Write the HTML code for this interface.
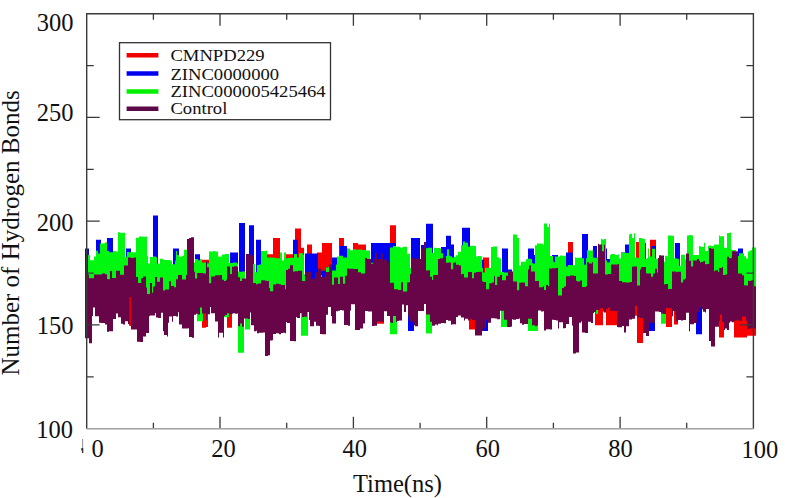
<!DOCTYPE html>
<html><head><meta charset="utf-8"><style>
html,body{margin:0;padding:0;background:#fff;width:788px;height:498px;overflow:hidden}
svg{display:block}
text{font-family:"Liberation Serif",serif;fill:#111}
</style></head><body>
<svg width="788" height="498" viewBox="0 0 788 498">
<path d="M85 261.2h3V328.0h-3zM88 277.3h4V328.0h-4zM92 277.3h7V300.7h-7zM99 277.3h8V308.7h-8zM107 282.1h3V316.0h-3zM110 274.0h3V316.0h-3zM113 274.0h7V303.1h-7zM120 269.2h1V303.1h-1zM121 269.2h7V309.5h-7zM128 261.2h1V309.5h-1zM129 261.2h2V325.3h-2zM131 261.2h5V313.6h-5zM136 280.5h1V313.6h-1zM137 280.5h6V326.4h-6zM143 280.5h4V321.6h-4zM147 286.9h2V321.6h-2zM149 286.9h4V304.7h-4zM153 280.5h2V304.7h-2zM155 280.5h8V302.3h-8zM163 285.3h5V320.8h-5zM168 285.3h5V307.1h-5zM173 285.3h3V301.5h-3zM176 277.3h3V301.5h-3zM179 277.3h8V313.6h-8zM187 241.1h2V313.6h-2zM189 241.1h5V322.4h-5zM194 275.7h6V299.1h-6zM200 259.8h2V299.1h-2zM202 259.8h4V327.8h-4zM206 259.8h2V326.9h-2zM208 259.8h1V305.5h-1zM209 278.9h1V305.5h-1zM210 278.9h5V298.3h-5zM215 278.9h3V306.3h-3zM218 278.9h4V322.4h-4zM222 283.7h2V322.4h-2zM224 283.7h3V300.7h-3zM227 270.0h5V327.8h-5zM232 270.0h6V299.1h-6zM238 280.5h6V311.9h-6zM244 280.5h2V303.1h-2zM246 258.0h5V303.1h-5zM251 258.0h2V316.0h-2zM253 286.9h4V316.0h-4zM257 286.9h4V318.4h-4zM261 283.7h4V318.4h-4zM265 283.7h2V340.9h-2zM267 254.2h3V340.9h-3zM270 254.2h3V324.8h-3zM273 238.1h7V318.4h-7zM280 286.9h6V318.4h-6zM286 254.2h4V307.1h-4zM290 254.2h3V326.4h-3zM293 274.0h2V326.4h-2zM295 228.5h1V326.4h-1zM296 228.5h5V302.3h-5zM301 247.8h3V302.3h-3zM304 274.8h3V302.3h-3zM307 244.5h2V302.3h-2zM309 244.5h3V310.3h-3zM312 274.8h5V310.3h-5zM317 252.6h3V310.3h-3zM320 252.6h2V318.4h-2zM322 242.9h4V318.4h-4zM326 242.9h5V299.9h-5zM331 242.9h1V308.7h-1zM332 280.5h4V308.7h-4zM336 280.5h3V295.9h-3zM339 238.1h5V295.9h-5zM344 280.5h1V310.3h-1zM345 272.4h5V310.3h-5zM350 272.4h3V295.1h-3zM353 242.9h2V295.1h-2zM355 242.9h3V314.4h-3zM358 244.5h2V314.4h-2zM360 244.5h5V312.8h-5zM365 244.5h1V295.9h-1zM366 261.2h6V295.9h-6zM372 261.2h1V310.3h-1zM373 256.4h4V310.3h-4zM377 256.4h7V323.7h-7zM384 256.4h3V300.7h-3zM387 264.4h3V300.7h-3zM390 225.3h6V307.1h-6zM396 285.3h1V307.1h-1zM397 285.3h5V306.3h-5zM402 285.3h6V296.7h-6zM408 285.3h2V307.1h-2zM410 277.3h1V307.1h-1zM411 261.2h3V307.1h-3zM414 261.2h4V310.3h-4zM418 261.2h3V295.9h-3zM421 245.1h5V295.9h-5zM426 274.0h6V306.3h-6zM432 277.3h6V310.3h-6zM438 261.2h8V308.7h-8zM446 266.0h5V305.5h-5zM451 266.0h5V309.5h-5zM456 268.4h5V301.5h-5zM461 277.3h3V301.5h-3zM464 277.3h4V304.7h-4zM468 275.7h1V304.7h-1zM469 275.7h6V329.4h-6zM475 275.7h7V320.0h-7zM482 285.3h1V320.0h-1zM483 257.4h6V311.9h-6zM489 285.3h2V311.9h-2zM491 285.3h3V303.9h-3zM494 278.9h13V303.9h-13zM507 278.9h1V311.1h-1zM508 274.0h4V311.1h-4zM512 274.0h1V303.9h-1zM513 285.3h6V303.9h-6zM519 286.1h1V303.9h-1zM520 286.1h8V308.7h-8zM528 269.2h7V311.1h-7zM535 284.5h3V311.1h-3zM538 284.5h6V295.9h-6zM544 288.5h5V315.2h-5zM549 270.8h3V315.2h-3zM552 270.8h6V305.5h-6zM558 290.1h8V313.6h-8zM566 278.9h2V309.5h-2zM568 242.1h5V309.5h-5zM573 278.9h3V337.7h-3zM576 283.7h3V337.7h-3zM579 283.7h3V307.1h-3zM582 290.1h5V318.4h-5zM587 266.0h1V318.4h-1zM588 266.0h5V307.1h-5zM593 277.3h2V297.5h-2zM595 277.3h3V325.3h-3zM598 247.5h5V325.3h-5zM603 247.5h2V297.5h-2zM605 277.3h1V297.5h-1zM606 277.3h5V325.3h-5zM611 267.6h6V325.3h-6zM617 267.6h2V311.9h-2zM619 284.5h5V311.9h-5zM624 284.5h5V318.4h-5zM629 284.5h3V303.9h-3zM632 269.2h3V303.9h-3zM635 269.2h1V315.7h-1zM636 242.1h1V315.7h-1zM637 242.1h2V343.0h-2zM639 285.3h1V343.0h-1zM640 269.2h3V343.0h-3zM643 269.2h3V326.4h-3zM646 275.7h3V326.4h-3zM649 275.7h1V307.1h-1zM650 239.7h5V307.1h-5zM655 239.7h1V297.5h-1zM656 272.4h2V297.5h-2zM658 258.0h3V297.5h-3zM661 258.0h3V299.1h-3zM664 286.9h2V299.1h-2zM666 286.9h6V326.9h-6zM672 274.8h2V300.7h-2zM674 274.8h2V324.5h-2zM676 275.7h2V324.6h-2zM678 275.7h3V305.5h-3zM681 282.1h5V305.5h-5zM686 257.2h3V297.5h-3zM689 257.2h2V316.0h-2zM691 262.8h3V316.0h-3zM694 262.8h3V307.1h-3zM697 262.8h3V295.9h-3zM700 264.4h2V295.9h-2zM702 264.4h3V297.5h-3zM705 267.6h4V298.3h-4zM709 251.6h5V330.4h-5zM714 274.1h1V330.4h-1zM715 274.1h4V312.0h-4zM719 270.1h4V337.4h-4zM723 278.1h1V337.4h-1zM724 278.1h3V314.4h-3zM727 260.4h2V314.4h-2zM729 260.4h3V307.1h-3zM732 254.0h2V307.1h-2zM734 254.0h4V337.4h-4zM738 277.3h6V337.4h-6zM744 288.5h3V337.4h-3zM747 288.5h1V335.8h-1zM748 283.7h8V335.8h-8z" fill="#f80000"/>
<path d="M85 248.6h4V328.0h-4zM89 277.3h3V328.0h-3zM92 277.3h4V300.7h-4zM96 239.7h3V300.7h-3zM99 239.7h2V308.7h-2zM101 277.3h6V308.7h-6zM107 238.1h6V316.0h-6zM113 274.0h7V303.1h-7zM120 269.2h1V303.1h-1zM121 269.2h5V309.5h-5zM126 248.6h5V309.5h-5zM131 261.2h5V313.6h-5zM136 280.5h1V313.6h-1zM137 280.5h6V326.4h-6zM143 280.5h4V321.6h-4zM147 286.9h2V321.6h-2zM149 286.9h4V304.7h-4zM153 215.6h2V304.7h-2zM155 215.6h3V302.3h-3zM158 280.5h5V302.3h-5zM163 285.3h5V320.8h-5zM168 285.3h5V307.1h-5zM173 248.6h6V301.5h-6zM179 277.3h8V313.6h-8zM187 241.1h2V313.6h-2zM189 241.1h5V322.4h-5zM194 275.7h1V299.1h-1zM195 254.2h5V299.1h-5zM200 275.7h6V299.1h-6zM206 262.8h3V305.5h-3zM209 278.9h1V305.5h-1zM210 278.9h5V298.3h-5zM215 278.9h3V306.3h-3zM218 278.9h4V322.4h-4zM222 283.7h2V322.4h-2zM224 283.7h3V300.7h-3zM227 270.0h3V299.1h-3zM230 252.6h8V299.1h-8zM238 280.5h1V311.9h-1zM239 222.9h5V311.9h-5zM244 222.9h1V303.1h-1zM245 280.5h1V303.1h-1zM246 258.0h3V303.1h-3zM249 225.3h2V303.1h-2zM251 225.3h3V316.0h-3zM254 286.9h2V316.0h-2zM256 239.7h1V316.0h-1zM257 239.7h4V318.4h-4zM261 283.7h4V318.4h-4zM265 283.7h3V340.9h-3zM268 258.2h2V340.9h-2zM270 258.2h3V324.8h-3zM273 286.9h13V318.4h-13zM286 267.6h4V307.1h-4zM290 267.6h3V326.4h-3zM293 239.7h3V326.4h-3zM296 239.7h2V302.3h-2zM298 274.0h4V302.3h-4zM302 274.8h3V302.3h-3zM305 253.4h4V302.3h-4zM309 253.4h9V310.3h-9zM318 270.8h2V310.3h-2zM320 270.8h6V318.4h-6zM326 267.6h5V299.9h-5zM331 267.6h1V308.7h-1zM332 257.4h4V308.7h-4zM336 257.4h2V295.9h-2zM338 280.5h2V295.9h-2zM340 246.1h4V295.9h-4zM344 246.1h3V310.3h-3zM347 272.4h3V310.3h-3zM350 272.4h5V295.1h-5zM355 272.4h3V314.4h-3zM358 275.7h2V314.4h-2zM360 275.7h5V312.8h-5zM365 261.2h6V295.9h-6zM371 242.9h1V295.9h-1zM372 242.9h5V310.3h-5zM377 242.9h7V306.3h-7zM384 242.9h6V300.7h-6zM390 242.9h6V307.1h-6zM396 285.3h1V307.1h-1zM397 285.3h5V306.3h-5zM402 285.3h6V296.7h-6zM408 285.3h2V331.0h-2zM410 277.3h1V331.0h-1zM411 238.1h3V331.0h-3zM414 238.1h4V310.3h-4zM418 238.1h2V295.9h-2zM420 261.2h1V295.9h-1zM421 245.1h5V295.9h-5zM426 223.7h6V306.3h-6zM432 223.7h1V310.3h-1zM433 277.3h5V310.3h-5zM438 261.2h3V308.7h-3zM441 246.9h5V308.7h-5zM446 235.7h5V305.5h-5zM451 244.5h3V309.5h-3zM454 266.0h2V309.5h-2zM456 268.4h5V301.5h-5zM461 277.3h1V301.5h-1zM462 227.7h2V301.5h-2zM464 227.7h6V304.7h-6zM470 275.7h5V304.7h-5zM475 275.7h4V320.0h-4zM479 259.8h4V320.0h-4zM483 259.8h1V331.0h-1zM484 285.3h4V331.0h-4zM488 285.3h3V311.9h-3zM491 285.3h3V303.9h-3zM494 278.9h8V303.9h-8zM502 248.6h5V303.9h-5zM507 248.6h1V311.1h-1zM508 269.4h4V311.1h-4zM512 274.0h1V303.9h-1zM513 285.3h6V303.9h-6zM519 286.1h1V303.9h-1zM520 286.1h8V308.7h-8zM528 248.6h6V311.1h-6zM534 255.0h2V311.1h-2zM536 284.5h2V311.1h-2zM538 284.5h6V295.9h-6zM544 288.5h5V315.2h-5zM549 270.8h3V315.2h-3zM552 255.0h6V305.5h-6zM558 290.1h8V313.6h-8zM566 252.6h7V309.5h-7zM573 278.9h3V337.7h-3zM576 283.7h3V337.7h-3zM579 283.7h3V307.1h-3zM582 234.1h6V318.4h-6zM588 266.0h5V307.1h-5zM593 246.1h3V297.5h-3zM596 246.1h1V294.3h-1zM597 277.3h1V294.3h-1zM598 247.5h5V294.3h-5zM603 247.5h2V297.5h-2zM605 248.6h2V297.5h-2zM607 259.0h1V297.5h-1zM608 259.0h2V295.9h-2zM610 277.3h1V295.9h-1zM611 267.6h6V295.9h-6zM617 267.6h2V311.9h-2zM619 284.5h2V311.9h-2zM621 252.6h3V311.9h-3zM624 252.6h1V318.4h-1zM625 244.5h4V318.4h-4zM629 284.5h3V303.9h-3zM632 269.2h3V303.9h-3zM635 269.2h2V291.1h-2zM637 285.3h3V302.3h-3zM640 269.2h3V302.3h-3zM643 269.2h1V326.4h-1zM644 242.9h2V326.4h-2zM646 275.7h3V326.4h-3zM649 275.7h2V331.0h-2zM651 246.1h4V331.0h-4zM655 246.1h1V297.5h-1zM656 272.4h2V297.5h-2zM658 258.0h3V297.5h-3zM661 258.0h3V299.1h-3zM664 286.9h2V299.1h-2zM666 286.9h6V292.7h-6zM672 274.8h3V300.7h-3zM675 242.9h1V300.7h-1zM676 242.9h2V307.1h-2zM678 242.9h1V305.5h-1zM679 242.9h1V305.5h-1zM680 275.7h1V305.5h-1zM681 282.1h5V305.5h-5zM686 257.2h3V297.5h-3zM689 257.2h2V316.0h-2zM691 262.8h3V316.0h-3zM694 262.8h2V307.1h-2zM696 262.8h4V334.2h-4zM700 264.4h2V334.2h-2zM702 264.4h3V297.5h-3zM705 267.6h4V298.3h-4zM709 251.6h5V330.4h-5zM714 274.1h1V330.4h-1zM715 274.1h4V312.0h-4zM719 270.1h4V306.3h-4zM723 278.1h1V306.3h-1zM724 278.1h3V314.4h-3zM727 260.4h2V314.4h-2zM729 260.4h3V307.1h-3zM732 254.0h2V307.1h-2zM734 254.0h4V305.5h-4zM738 248.6h5V305.5h-5zM743 277.3h1V305.5h-1zM744 288.5h3V305.5h-3zM747 288.5h1V313.6h-1zM748 283.7h8V313.6h-8z" fill="#0004f0"/>
<path d="M85 260.6h3V328.0h-3zM88 255.1h2V328.0h-2zM90 260.2h2V328.0h-2zM92 260.2h2V300.7h-2zM94 256.5h2V300.7h-2zM96 250.8h2V300.7h-2zM98 253.5h1V300.7h-1zM99 253.5h1V308.7h-1zM100 243.5h3V308.7h-3zM103 243.2h2V308.7h-2zM105 242.2h2V308.7h-2zM107 251.0h2V316.0h-2zM109 252.3h4V316.0h-4zM113 251.1h3V303.1h-3zM116 251.5h2V303.1h-2zM118 232.2h2V303.1h-2zM120 232.8h1V303.1h-1zM121 232.8h4V309.5h-4zM125 256.7h2V309.5h-2zM127 252.1h2V309.5h-2zM129 252.3h2V309.5h-2zM131 252.3h2V313.6h-2zM133 252.2h3V313.6h-3zM136 237.7h1V313.6h-1zM137 237.8h2V326.4h-2zM139 236.5h4V326.4h-4zM143 236.8h3V321.6h-3zM146 236.6h1V321.6h-1zM147 255.9h1V321.6h-1zM148 263.6h1V321.6h-1zM149 263.6h1V304.7h-1zM150 257.1h3V304.7h-3zM153 256.4h2V304.7h-2zM155 256.4h1V302.3h-1zM156 257.3h1V302.3h-1zM157 263.7h3V302.3h-3zM160 258.8h3V302.3h-3zM163 260.0h4V320.8h-4zM167 260.0h1V320.8h-1zM168 260.0h2V307.1h-2zM170 260.6h2V307.1h-2zM172 264.3h1V307.1h-1zM173 264.3h2V301.5h-2zM175 260.6h1V301.5h-1zM176 250.9h1V301.5h-1zM177 255.1h2V301.5h-2zM179 256.7h3V313.6h-3zM182 255.7h2V313.6h-2zM184 249.7h3V313.6h-3zM187 262.6h1V313.6h-1zM188 262.6h1V313.6h-1zM189 262.6h2V322.4h-2zM191 262.6h3V322.4h-3zM194 262.6h1V299.1h-1zM195 259.1h2V299.1h-2zM197 259.1h1V321.3h-1zM198 260.3h2V321.3h-2zM200 259.2h2V321.3h-2zM202 262.4h1V321.3h-1zM203 262.4h1V299.1h-1zM204 262.6h2V299.1h-2zM206 263.2h3V305.5h-3zM209 251.6h1V305.5h-1zM210 251.6h3V298.3h-3zM213 250.9h2V298.3h-2zM215 251.4h3V306.3h-3zM218 256.5h4V322.4h-4zM222 254.6h2V322.4h-2zM224 254.6h1V317.3h-1zM225 253.9h4V317.3h-4zM229 263.0h4V299.1h-4zM233 262.5h4V299.1h-4zM237 263.5h1V299.1h-1zM238 271.6h2V352.7h-2zM240 271.7h2V352.7h-2zM242 271.6h2V352.7h-2zM244 271.6h1V303.1h-1zM245 281.0h3V329.4h-3zM248 274.2h2V329.4h-2zM250 274.2h1V303.1h-1zM251 274.2h1V316.0h-1zM252 273.7h1V316.0h-1zM253 264.1h2V316.0h-2zM255 272.3h2V316.0h-2zM257 265.1h2V318.4h-2zM259 264.5h2V318.4h-2zM261 250.9h2V318.4h-2zM263 251.0h2V318.4h-2zM265 251.0h1V340.9h-1zM266 250.6h1V340.9h-1zM267 257.8h1V340.9h-1zM268 257.6h2V340.9h-2zM270 257.6h1V324.8h-1zM271 257.6h2V324.8h-2zM273 257.7h3V318.4h-3zM276 258.3h3V318.4h-3zM279 258.3h1V318.4h-1zM280 252.6h2V318.4h-2zM282 260.5h2V318.4h-2zM284 252.5h2V318.4h-2zM286 258.2h2V307.1h-2zM288 258.0h2V307.1h-2zM290 257.7h4V326.4h-4zM294 254.0h2V326.4h-2zM296 254.0h1V302.3h-1zM297 257.4h2V302.3h-2zM299 253.3h2V302.3h-2zM301 253.3h2V335.8h-2zM303 255.1h1V335.8h-1zM304 275.2h3V335.8h-3zM307 281.7h1V335.8h-1zM308 281.7h1V302.3h-1zM309 281.7h1V310.3h-1zM310 280.5h3V310.3h-3zM313 280.2h2V310.3h-2zM315 282.8h3V310.3h-3zM318 275.2h2V310.3h-2zM320 275.2h2V318.4h-2zM322 280.4h4V318.4h-4zM326 267.6h2V299.9h-2zM328 266.9h3V299.9h-3zM331 266.9h1V308.7h-1zM332 270.4h4V308.7h-4zM336 264.6h1V295.9h-1zM337 256.5h2V295.9h-2zM339 255.8h4V295.9h-4zM343 257.4h1V295.9h-1zM344 257.4h1V310.3h-1zM345 257.4h2V310.3h-2zM347 248.4h3V310.3h-3zM350 250.3h3V295.1h-3zM353 249.3h2V295.1h-2zM355 249.3h1V314.4h-1zM356 249.7h2V314.4h-2zM358 249.5h2V314.4h-2zM360 249.5h2V312.8h-2zM362 250.0h3V312.8h-3zM365 250.0h1V295.9h-1zM366 250.5h4V295.9h-4zM370 262.8h2V295.9h-2zM372 262.8h1V310.3h-1zM373 266.6h4V310.3h-4zM377 262.6h3V306.3h-3zM380 263.9h4V306.3h-4zM384 262.8h3V300.7h-3zM387 263.6h2V300.7h-2zM389 263.5h1V300.7h-1zM390 247.4h3V334.2h-3zM393 246.0h3V334.2h-3zM396 246.8h1V334.2h-1zM397 246.8h1V306.3h-1zM398 246.7h2V306.3h-2zM400 247.6h2V306.3h-2zM402 247.6h1V296.7h-1zM403 246.8h4V296.7h-4zM407 253.7h1V296.7h-1zM408 253.7h2V307.1h-2zM410 268.1h1V307.1h-1zM411 260.7h2V307.1h-2zM413 262.2h1V307.1h-1zM414 262.2h1V310.3h-1zM415 260.8h3V310.3h-3zM418 260.9h2V295.9h-2zM420 261.1h2V295.9h-2zM422 267.3h3V295.9h-3zM425 261.1h1V295.9h-1zM426 248.2h2V333.4h-2zM428 247.7h4V333.4h-4zM432 252.8h2V310.3h-2zM434 247.8h2V310.3h-2zM436 248.0h2V310.3h-2zM438 248.0h2V308.7h-2zM440 248.4h1V308.7h-1zM441 253.2h2V308.7h-2zM443 259.2h3V308.7h-3zM446 256.0h1V305.5h-1zM447 249.2h2V305.5h-2zM449 255.6h1V305.5h-1zM450 256.2h1V305.5h-1zM451 256.2h1V309.5h-1zM452 257.6h2V309.5h-2zM454 256.8h2V309.5h-2zM456 255.3h2V301.5h-2zM458 251.8h3V301.5h-3zM461 245.3h2V301.5h-2zM463 241.5h1V301.5h-1zM464 241.5h1V304.7h-1zM465 242.7h2V304.7h-2zM467 242.8h1V304.7h-1zM468 246.8h2V304.7h-2zM470 245.7h4V304.7h-4zM474 246.1h1V304.7h-1zM475 246.1h1V320.0h-1zM476 256.5h2V320.0h-2zM478 256.0h3V320.0h-3zM481 256.5h1V320.0h-1zM482 267.8h1V320.0h-1zM483 272.4h2V311.9h-2zM485 267.8h6V311.9h-6zM491 247.1h2V303.9h-2zM493 246.5h4V303.9h-4zM497 257.3h2V303.9h-2zM499 258.4h2V303.9h-2zM501 272.1h3V326.9h-3zM504 272.6h3V326.9h-3zM507 272.6h1V311.1h-1zM508 273.3h2V311.1h-2zM510 271.7h2V311.1h-2zM512 271.7h1V303.9h-1zM513 234.5h4V303.9h-4zM517 238.1h2V303.9h-2zM519 265.4h1V303.9h-1zM520 265.4h1V308.7h-1zM521 261.7h3V308.7h-3zM524 261.7h2V308.7h-2zM526 259.3h1V308.7h-1zM527 258.7h1V308.7h-1zM528 258.7h3V331.0h-3zM531 259.0h1V331.0h-1zM532 263.0h1V331.0h-1zM533 263.8h2V331.0h-2zM535 245.3h2V331.0h-2zM537 243.6h1V331.0h-1zM538 243.6h3V295.9h-3zM541 243.7h2V295.9h-2zM543 245.2h1V295.9h-1zM544 223.5h3V315.2h-3zM547 226.9h2V315.2h-2zM549 223.8h1V315.2h-1zM550 255.9h2V315.2h-2zM552 255.9h1V305.5h-1zM553 261.5h1V305.5h-1zM554 262.3h1V305.5h-1zM555 256.4h2V305.5h-2zM557 256.4h1V305.5h-1zM558 256.4h2V313.6h-2zM560 255.6h2V313.6h-2zM562 255.7h4V313.6h-4zM566 266.5h2V309.5h-2zM568 265.1h4V309.5h-4zM572 265.2h1V309.5h-1zM573 265.2h2V337.7h-2zM575 257.2h1V337.7h-1zM576 257.7h3V337.7h-3zM579 257.7h1V307.1h-1zM580 257.4h2V307.1h-2zM582 258.2h2V318.4h-2zM584 264.7h2V318.4h-2zM586 258.3h1V318.4h-1zM587 250.3h1V318.4h-1zM588 250.3h1V307.1h-1zM589 250.4h3V307.1h-3zM592 250.3h1V307.1h-1zM593 257.5h1V297.5h-1zM594 257.7h2V297.5h-2zM596 257.7h1V314.1h-1zM597 257.1h1V314.1h-1zM598 257.9h1V294.3h-1zM599 257.3h2V294.3h-2zM601 238.8h1V294.3h-1zM602 239.4h1V294.3h-1zM603 239.4h1V297.5h-1zM604 238.9h2V297.5h-2zM606 260.6h1V297.5h-1zM607 262.4h1V297.5h-1zM608 262.4h1V295.9h-1zM609 262.3h1V295.9h-1zM610 255.1h1V295.9h-1zM611 254.1h4V295.9h-4zM615 255.0h2V295.9h-2zM617 255.0h1V311.9h-1zM618 254.3h1V311.9h-1zM619 258.3h1V311.9h-1zM620 258.4h1V311.9h-1zM621 252.8h2V311.9h-2zM623 252.6h1V311.9h-1zM624 252.6h2V318.4h-2zM626 252.9h3V318.4h-3zM629 234.4h1V303.9h-1zM630 233.7h2V303.9h-2zM632 238.1h2V303.9h-2zM634 233.3h1V303.9h-1zM635 257.4h2V291.1h-2zM637 257.4h1V302.3h-1zM638 258.0h1V302.3h-1zM639 237.9h3V302.3h-3zM642 238.6h1V302.3h-1zM643 238.6h1V326.4h-1zM644 238.9h1V326.4h-1zM645 259.0h2V326.4h-2zM647 258.0h1V326.4h-1zM648 248.4h1V326.4h-1zM649 256.4h3V307.1h-3zM652 248.8h3V307.1h-3zM655 258.4h1V297.5h-1zM656 258.8h4V297.5h-4zM660 257.3h1V297.5h-1zM661 257.3h1V323.7h-1zM662 261.7h3V323.7h-3zM665 255.7h1V323.7h-1zM666 255.7h1V292.7h-1zM667 256.4h1V292.7h-1zM668 235.5h3V292.7h-3zM671 235.8h1V292.7h-1zM672 235.8h2V300.7h-2zM674 258.2h2V300.7h-2zM676 258.3h1V307.1h-1zM677 259.1h1V307.1h-1zM678 259.1h1V305.5h-1zM679 266.1h2V305.5h-2zM681 254.7h4V305.5h-4zM685 259.2h1V305.5h-1zM686 261.4h1V297.5h-1zM687 235.4h2V297.5h-2zM689 235.1h2V316.0h-2zM691 235.6h2V316.0h-2zM693 254.9h1V316.0h-1zM694 254.9h1V307.1h-1zM695 255.0h2V307.1h-2zM697 254.9h2V295.9h-2zM699 246.3h2V295.9h-2zM701 246.9h1V295.9h-1zM702 246.9h2V297.5h-2zM704 242.8h1V297.5h-1zM705 250.9h3V298.3h-3zM708 246.1h1V298.3h-1zM709 245.6h2V330.4h-2zM711 245.9h3V330.4h-3zM714 244.4h1V330.4h-1zM715 244.4h2V312.0h-2zM717 244.4h2V312.0h-2zM719 235.5h1V306.3h-1zM720 236.2h4V306.3h-4zM724 247.8h3V314.4h-3zM727 233.3h1V314.4h-1zM728 233.1h1V314.4h-1zM729 233.1h1V307.1h-1zM730 232.4h1V307.1h-1zM731 249.3h1V307.1h-1zM732 249.9h2V307.1h-2zM734 249.9h2V305.5h-2zM736 252.7h2V305.5h-2zM738 255.9h1V305.5h-1zM739 253.2h5V305.5h-5zM744 256.2h2V305.5h-2zM746 258.5h1V305.5h-1zM747 258.5h1V313.6h-1zM748 251.6h2V313.6h-2zM750 250.2h2V313.6h-2zM752 247.4h4V313.6h-4z" fill="#00f810"/>
<path d="M85 258.4h3V338.3h-3zM88 274.5h1V338.3h-1zM89 278.3h2V343.3h-2zM91 278.2h1V343.3h-1zM92 278.2h1V316.0h-1zM93 278.2h1V307.4h-1zM94 274.5h1V307.4h-1zM95 274.5h3V316.3h-3zM98 274.6h1V316.3h-1zM99 274.6h2V322.8h-2zM101 274.6h1V322.9h-1zM102 273.5h3V322.9h-3zM105 274.3h2V324.4h-2zM107 279.1h1V331.7h-1zM108 279.2h1V331.7h-1zM109 279.2h1V331.2h-1zM110 271.1h2V331.2h-2zM112 277.9h1V331.2h-1zM113 277.9h3V319.0h-3zM116 270.8h2V313.5h-2zM118 270.8h2V317.2h-2zM120 274.8h1V317.2h-1zM121 274.8h2V323.7h-2zM123 274.8h1V324.4h-1zM124 265.5h1V324.4h-1zM125 265.5h2V321.2h-2zM127 265.4h1V321.2h-1zM128 257.4h3V324.0h-3zM131 258.1h3V329.5h-3zM134 257.6h1V329.5h-1zM135 257.6h1V329.4h-1zM136 276.9h1V329.4h-1zM137 276.9h1V341.8h-1zM138 282.9h2V341.8h-2zM140 282.9h1V342.1h-1zM141 278.3h2V342.1h-2zM143 276.5h3V336.4h-3zM146 287.4h1V333.1h-1zM147 293.9h2V333.1h-2zM149 293.9h1V316.2h-1zM150 283.0h2V315.4h-2zM152 292.8h1V315.4h-1zM153 286.4h1V315.4h-1zM154 286.4h1V315.5h-1zM155 277.1h1V313.1h-1zM156 277.1h1V317.4h-1zM157 281.7h1V317.4h-1zM158 281.7h2V318.0h-2zM160 277.4h1V318.0h-1zM161 277.4h2V312.7h-2zM163 290.5h1V331.2h-1zM164 290.5h1V335.0h-1zM165 289.5h2V335.0h-2zM167 289.5h1V336.4h-1zM168 289.5h1V322.7h-1zM169 281.3h2V316.5h-2zM171 285.9h1V316.5h-1zM172 285.9h1V321.8h-1zM173 285.9h1V316.1h-1zM174 287.3h2V316.1h-2zM176 279.3h2V316.5h-2zM178 275.0h1V312.3h-1zM179 275.0h3V324.4h-3zM182 279.5h4V328.4h-4zM186 275.1h1V328.4h-1zM187 239.0h1V328.4h-1zM188 239.0h1V328.2h-1zM189 238.0h2V337.0h-2zM191 237.2h1V337.0h-1zM192 237.2h2V337.8h-2zM194 271.7h1V314.8h-1zM195 278.5h1V314.8h-1zM196 278.5h1V313.7h-1zM197 273.1h1V313.7h-1zM198 273.1h2V314.5h-2zM200 273.1h1V307.5h-1zM201 273.0h1V307.5h-1zM202 273.0h1V313.5h-1zM203 273.5h2V313.5h-2zM205 273.5h1V313.7h-1zM206 260.7h1V320.1h-1zM207 267.2h2V314.3h-2zM209 283.2h1V314.3h-1zM210 283.2h1V307.1h-1zM211 276.4h2V313.2h-2zM213 276.4h2V313.2h-2zM215 275.2h2V321.6h-2zM217 275.2h1V321.5h-1zM218 275.2h1V337.6h-1zM219 275.2h1V332.7h-1zM220 275.0h2V332.7h-2zM222 279.8h1V332.7h-1zM223 279.8h1V337.6h-1zM224 281.0h1V316.0h-1zM225 281.0h1V315.0h-1zM226 279.8h1V315.0h-1zM227 266.2h1V313.3h-1zM228 266.5h1V313.3h-1zM229 266.5h1V313.7h-1zM230 273.9h2V313.7h-2zM232 266.7h1V313.7h-1zM233 266.7h1V313.2h-1zM234 266.3h1V313.2h-1zM235 266.3h2V313.7h-2zM237 266.8h1V313.4h-1zM238 277.3h2V326.2h-2zM240 281.1h2V323.6h-2zM242 278.4h2V326.7h-2zM244 278.4h2V318.6h-2zM246 254.1h2V318.6h-2zM248 254.1h1V319.0h-1zM249 255.3h1V319.0h-1zM250 255.3h1V312.4h-1zM251 255.3h2V325.3h-2zM253 283.0h1V325.3h-1zM254 283.0h2V331.2h-2zM256 284.3h1V330.8h-1zM257 284.3h1V333.2h-1zM258 283.4h1V333.2h-1zM259 283.4h2V332.8h-2zM261 280.2h2V332.8h-2zM263 280.2h2V332.5h-2zM265 280.7h2V356.0h-2zM267 280.9h1V356.0h-1zM268 280.9h1V355.3h-1zM269 288.0h1V355.3h-1zM270 291.3h2V340.4h-2zM272 291.3h1V340.3h-1zM273 284.4h3V333.9h-3zM276 283.7h3V333.3h-3zM279 284.2h2V334.2h-2zM281 284.9h2V332.9h-2zM283 284.9h2V332.8h-2zM285 289.2h1V333.3h-1zM286 269.9h1V322.1h-1zM287 269.9h1V322.9h-1zM288 268.7h2V322.9h-2zM290 265.2h3V340.9h-3zM293 271.6h1V340.9h-1zM294 271.6h1V341.2h-1zM295 271.3h1V341.2h-1zM296 271.3h1V317.1h-1zM297 271.3h1V318.1h-1zM298 270.8h2V318.1h-2zM300 270.8h2V313.3h-2zM302 281.0h2V317.0h-2zM304 281.0h1V316.7h-1zM305 272.0h2V316.7h-2zM307 271.7h2V312.0h-2zM309 271.7h1V320.0h-1zM310 271.7h1V326.2h-1zM311 278.7h3V326.2h-3zM314 278.7h1V321.7h-1zM315 272.3h1V321.7h-1zM316 272.3h2V325.8h-2zM318 268.6h1V325.8h-1zM319 268.6h1V325.9h-1zM320 268.6h1V333.9h-1zM321 277.0h1V333.9h-1zM322 277.0h3V334.2h-3zM325 275.2h1V334.2h-1zM326 272.0h2V314.7h-2zM328 272.0h1V307.1h-1zM329 264.5h2V307.1h-2zM331 264.5h1V315.9h-1zM332 284.8h2V323.6h-2zM334 277.5h2V323.6h-2zM336 277.5h2V311.3h-2zM338 284.1h2V310.8h-2zM340 276.8h2V309.9h-2zM342 276.8h1V310.6h-1zM343 283.7h1V310.6h-1zM344 283.7h1V325.0h-1zM345 275.7h1V325.0h-1zM346 275.7h1V325.1h-1zM347 268.5h1V325.1h-1zM348 268.5h1V325.7h-1zM349 268.7h1V325.7h-1zM350 268.7h1V310.4h-1zM351 268.7h2V304.2h-2zM353 268.9h2V304.2h-2zM355 268.9h2V329.9h-2zM357 269.0h1V329.9h-1zM358 272.2h2V330.1h-2zM360 272.2h1V328.6h-1zM361 273.4h2V328.6h-2zM363 273.4h2V323.4h-2zM365 258.0h2V311.0h-2zM367 259.1h1V311.0h-1zM368 259.1h3V311.4h-3zM371 263.7h1V311.4h-1zM372 263.7h1V325.9h-1zM373 258.9h1V325.9h-1zM374 258.9h1V325.7h-1zM375 252.5h2V325.7h-2zM377 259.1h3V321.2h-3zM380 259.1h1V321.8h-1zM381 253.6h2V321.8h-2zM383 259.5h1V321.8h-1zM384 259.5h3V311.2h-3zM387 262.2h2V315.9h-2zM389 262.3h1V315.9h-1zM390 283.1h1V322.3h-1zM391 282.8h2V322.9h-2zM393 282.8h1V316.0h-1zM394 289.3h2V316.0h-2zM396 289.3h1V321.9h-1zM397 289.3h1V321.1h-1zM398 289.9h1V321.1h-1zM399 289.9h2V320.4h-2zM401 282.2h1V320.4h-1zM402 282.2h1V304.6h-1zM403 291.6h1V304.6h-1zM404 291.6h2V311.9h-2zM406 291.6h1V305.3h-1zM407 282.5h1V305.3h-1zM408 282.5h1V315.8h-1zM409 282.0h1V321.5h-1zM410 274.0h1V321.5h-1zM411 257.9h2V321.5h-2zM413 258.6h1V322.1h-1zM414 258.6h1V325.3h-1zM415 258.6h2V326.3h-2zM417 259.1h1V326.3h-1zM418 259.1h3V311.1h-3zM421 248.5h3V311.0h-3zM424 242.1h2V304.0h-2zM426 270.4h2V314.4h-2zM428 270.3h2V314.5h-2zM430 276.8h2V321.7h-2zM432 280.0h1V325.7h-1zM433 275.1h2V325.8h-2zM435 275.1h2V324.5h-2zM437 275.1h1V325.3h-1zM438 259.1h2V323.7h-2zM440 258.2h1V323.7h-1zM441 258.2h3V323.0h-3zM444 258.0h2V323.2h-2zM446 262.8h2V320.0h-2zM448 262.5h3V320.7h-3zM451 269.3h1V324.7h-1zM452 269.3h1V324.3h-1zM453 262.7h2V324.3h-2zM455 262.3h1V324.3h-1zM456 264.7h2V316.9h-2zM458 264.7h1V315.6h-1zM459 265.5h2V315.6h-2zM461 274.3h1V317.4h-1zM462 274.1h2V317.4h-2zM464 277.4h1V320.6h-1zM465 277.4h3V318.8h-3zM468 272.1h2V320.4h-2zM470 272.1h2V318.8h-2zM472 278.3h2V319.9h-2zM474 272.8h1V320.1h-1zM475 272.8h1V335.4h-1zM476 272.0h2V335.4h-2zM478 272.0h1V335.4h-1zM479 271.7h3V335.4h-3zM482 281.3h1V331.0h-1zM483 282.1h1V323.0h-1zM484 282.1h2V327.9h-2zM486 289.2h2V319.5h-2zM488 289.2h1V322.7h-1zM489 283.2h2V322.7h-2zM491 283.2h1V318.3h-1zM492 282.6h2V318.3h-2zM494 276.2h1V318.3h-1zM495 285.1h2V318.4h-2zM497 276.7h3V319.2h-3zM500 275.1h2V310.7h-2zM502 280.3h2V310.7h-2zM504 280.3h2V319.8h-2zM506 275.7h1V319.8h-1zM507 275.7h1V327.0h-1zM508 270.9h2V326.9h-2zM510 271.6h1V326.9h-1zM511 271.6h1V326.5h-1zM512 271.6h1V319.2h-1zM513 281.4h3V319.7h-3zM516 281.4h1V318.9h-1zM517 290.3h2V318.9h-2zM519 282.7h1V318.5h-1zM520 282.7h1V323.3h-1zM521 282.6h1V323.3h-1zM522 282.6h2V324.7h-2zM524 282.6h1V324.0h-1zM525 286.2h3V324.0h-3zM528 269.4h1V318.8h-1zM529 265.5h2V318.8h-2zM531 271.4h1V318.8h-1zM532 271.4h3V325.3h-3zM535 281.1h2V326.2h-2zM537 281.1h1V325.6h-1zM538 281.1h1V310.4h-1zM539 287.2h2V310.4h-2zM541 287.2h2V311.4h-2zM543 286.1h1V311.2h-1zM544 290.1h2V330.4h-2zM546 285.0h2V329.3h-2zM548 286.3h1V329.3h-1zM549 268.6h1V329.3h-1zM550 268.6h2V329.4h-2zM552 268.3h2V319.8h-2zM554 268.3h2V320.1h-2zM556 268.1h2V320.4h-2zM558 295.4h1V328.4h-1zM559 295.4h3V322.2h-3zM562 287.9h1V322.2h-1zM563 287.9h1V328.2h-1zM564 286.4h1V328.2h-1zM565 286.4h1V327.9h-1zM566 276.3h3V323.9h-3zM569 276.3h1V316.9h-1zM570 275.6h2V316.9h-2zM572 275.6h1V325.4h-1zM573 275.6h1V353.5h-1zM574 276.0h2V353.5h-2zM576 280.8h1V352.6h-1zM577 281.6h2V352.6h-2zM579 281.6h1V322.7h-1zM580 280.5h1V322.7h-1zM581 280.5h1V321.4h-1zM582 286.9h1V332.6h-1zM583 286.9h2V332.6h-2zM585 286.9h1V333.0h-1zM586 286.3h1V333.0h-1zM587 262.2h1V333.0h-1zM588 262.2h1V321.7h-1zM589 263.6h2V321.8h-2zM591 263.6h1V322.9h-1zM592 262.3h1V322.9h-1zM593 273.6h1V313.3h-1zM594 273.6h2V312.0h-2zM596 273.6h2V310.0h-2zM598 243.8h1V310.0h-1zM599 244.6h1V310.0h-1zM600 244.6h2V308.3h-2zM602 251.2h1V308.3h-1zM603 251.2h1V311.6h-1zM604 244.8h1V312.6h-1zM605 274.5h1V312.6h-1zM606 274.5h2V309.1h-2zM608 273.9h2V307.5h-2zM610 273.9h1V310.8h-1zM611 264.4h3V310.8h-3zM614 264.6h3V311.0h-3zM617 264.6h1V327.0h-1zM618 264.1h1V327.3h-1zM619 281.0h3V327.3h-3zM622 282.2h2V326.0h-2zM624 282.2h2V332.4h-2zM626 282.4h3V326.2h-3zM629 282.4h1V319.4h-1zM630 282.0h2V319.4h-2zM632 266.8h1V318.8h-1zM633 266.6h2V318.8h-2zM635 266.5h2V305.8h-2zM637 285.4h3V317.2h-3zM640 269.4h1V318.0h-1zM641 267.0h2V318.0h-2zM643 266.9h3V333.0h-3zM646 273.3h1V336.1h-1zM647 273.6h2V336.1h-2zM649 273.6h2V322.4h-2zM651 276.8h2V322.9h-2zM653 273.6h2V322.9h-2zM655 268.7h2V311.6h-2zM657 272.6h1V311.6h-1zM658 258.1h1V311.6h-1zM659 255.2h2V311.9h-2zM661 255.5h2V313.5h-2zM663 255.5h1V314.1h-1zM664 284.4h1V314.1h-1zM665 284.0h1V314.1h-1zM666 284.0h2V308.0h-2zM668 288.9h1V308.0h-1zM669 288.9h3V308.2h-3zM672 271.5h1V316.2h-1zM673 271.5h2V311.1h-2zM675 271.5h1V315.1h-1zM676 272.3h1V321.6h-1zM677 271.7h1V321.7h-1zM678 271.7h3V320.1h-3zM681 282.5h2V320.4h-2zM683 279.6h2V320.0h-2zM685 278.5h1V320.0h-1zM686 253.6h3V312.7h-3zM689 260.8h1V331.2h-1zM690 260.8h1V324.2h-1zM691 266.5h2V324.2h-2zM693 260.4h1V324.2h-1zM694 260.4h2V323.1h-2zM696 260.4h1V323.1h-1zM697 258.9h2V311.8h-2zM699 260.8h1V311.8h-1zM700 262.4h1V307.5h-1zM701 262.0h1V307.5h-1zM702 262.0h1V309.2h-1zM703 261.1h2V311.8h-2zM705 264.3h1V312.6h-1zM706 264.3h1V309.1h-1zM707 264.0h2V309.1h-2zM709 247.9h2V340.9h-2zM711 248.8h3V346.4h-3zM714 271.3h1V346.4h-1zM715 270.2h3V326.7h-3zM718 271.9h1V326.7h-1zM719 267.9h1V321.0h-1zM720 267.9h2V314.4h-2zM722 267.1h1V321.9h-1zM723 275.1h1V321.9h-1zM724 275.1h1V329.9h-1zM725 274.4h2V328.6h-2zM727 256.7h2V330.1h-2zM729 258.2h1V322.8h-1zM730 258.2h1V321.4h-1zM731 257.7h1V321.4h-1zM732 251.2h2V322.3h-2zM734 251.2h2V320.7h-2zM736 251.2h2V320.3h-2zM738 273.5h1V320.3h-1zM739 273.5h3V321.0h-3zM742 275.2h2V316.4h-2zM744 285.2h2V316.4h-2zM746 285.5h1V321.0h-1zM747 285.5h1V329.1h-1zM748 280.7h1V329.1h-1zM749 281.0h1V329.1h-1zM750 281.0h1V328.3h-1zM751 280.3h2V328.3h-2zM753 286.2h3V328.2h-3z" fill="#680548"/>
<path d="M129.5 297h1.6V326h-1.6z" fill="#e00010"/>
<path d="M153.4 428.7V422.7M153.4 13.7V19.7M220.0 428.7V416.7M220.0 13.7V25.7M286.7 428.7V422.7M286.7 13.7V19.7M353.4 428.7V416.7M353.4 13.7V25.7M420.1 428.7V422.7M420.1 13.7V19.7M486.7 428.7V416.7M486.7 13.7V25.7M553.4 428.7V422.7M553.4 13.7V19.7M620.1 428.7V416.7M620.1 13.7V25.7M686.7 428.7V422.7M686.7 13.7V19.7M86.7 376.8H93.7M753.4 376.8H746.4M86.7 324.9H99.7M753.4 324.9H740.4M86.7 273.1H93.7M753.4 273.1H746.4M86.7 221.2H99.7M753.4 221.2H740.4M86.7 169.3H93.7M753.4 169.3H746.4M86.7 117.4H99.7M753.4 117.4H740.4M86.7 65.6H93.7M753.4 65.6H746.4" stroke="#3a3a3a" stroke-width="1.3" fill="none"/>
<path d="M86.7 428.7V13.7H753.4V428.7" stroke="#3a3a3a" stroke-width="1.4" fill="none"/>
<path d="M86.7 428.7H753.4" stroke="#a0a0a0" stroke-width="1.4" fill="none"/>
<g font-size="24.5" text-anchor="end">
<text x="73.5" y="30.5">300</text>
<text x="73.5" y="120.5">250</text>
<text x="73.5" y="230.5">200</text>
<text x="73.5" y="333.5">150</text>
<text x="73" y="437.5">100</text>
</g>
<g font-size="24.5" text-anchor="middle">
<text x="97.5" y="457.3">0</text>
<text x="223.6" y="457.3">20</text>
<text x="354.8" y="457.3">40</text>
<text x="487.7" y="457.3">60</text>
<text x="620.5" y="457.3">80</text>
<text x="759.8" y="457.5">100</text>
</g>
<text x="353" y="491.6" font-size="24.5">Time(ns)</text>
<path d="M82.6 439V448" stroke="#999" stroke-width="1.1"/><path d="M82.6 448V453" stroke="#333" stroke-width="1.4"/><path d="M81.3 448.5L82.6 451" stroke="#333" stroke-width="1.2"/>
<text transform="translate(19,375.6) rotate(-90)" font-size="25">Number of Hydrogen Bonds</text>
<rect x="119.5" y="42.7" width="211" height="77" fill="#fff" stroke="#333" stroke-width="1.3"/>
<g stroke-width="4.5">
<path d="M126.6 55.2H158.4" stroke="#f00000"/>
<path d="M126.6 73.5H158.4" stroke="#0000f0"/>
<path d="M126.6 91.4H158.4" stroke="#00f000"/>
<path d="M126.6 108.7H158.4" stroke="#5c0848"/>
</g>
<g font-size="16.5" transform="translate(170.4 0) scale(1.13 1)">
<text x="0" y="61.5">CMNPD229</text>
<text x="0" y="79.8">ZINC0000000</text>
<text x="0" y="97.5">ZINC000005425464</text>
<text x="0" y="114.5">Control</text>
</g>
</svg>
</body></html>
